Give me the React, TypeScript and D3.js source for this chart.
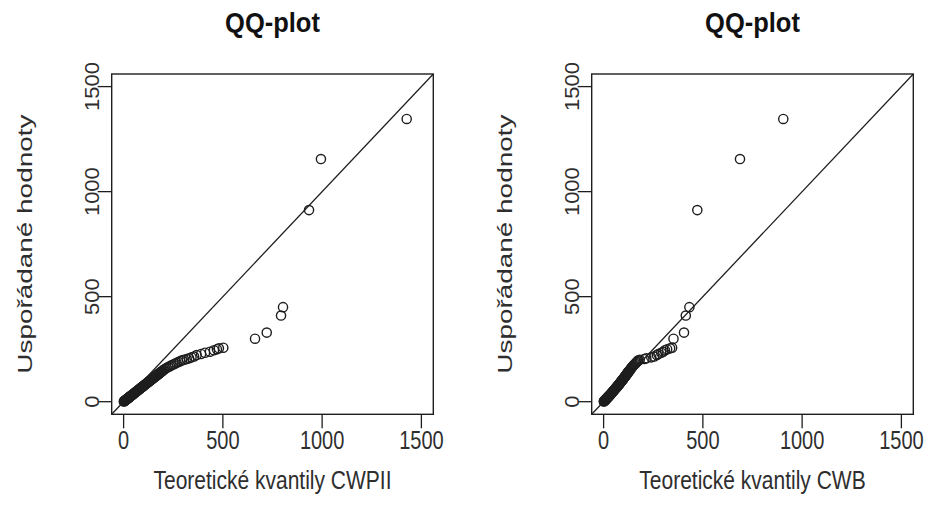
import React from "react";
import * as d3 from "d3";

// Sorted observed values (y) and matching theoretical quantiles (x) for each model
const sortedValues = [
  1, 2, 3, 4, 5, 6, 7, 8, 9, 10, 11, 12, 13, 14, 15, 16, 17, 18, 19, 20,
  21, 22, 23, 24, 25, 26, 27, 28, 29, 30, 32, 34, 36, 38, 40, 42, 44, 46, 48, 50,
  52, 54, 56, 58, 60, 62, 64, 66, 68, 70, 72, 74, 76, 78, 80, 82, 84, 86, 88, 90,
  92, 94, 96, 98, 100, 102, 104, 106, 108, 110, 112, 114, 116, 118, 120, 122, 124, 126, 128, 130,
  132, 134, 136, 138, 140, 142, 144, 145, 149, 153, 157, 161, 165, 169, 173, 177, 181, 185, 189, 193,
  197, 200, 203, 207, 211, 215, 222, 227, 233, 238, 245, 250, 254, 257, 300, 329, 410, 450, 912, 1155,
  1346,
];
const quantCWPII = [
  1, 3, 4, 5, 7, 8, 9, 11, 12, 13, 15, 16, 17, 19, 20, 21, 23, 24, 25, 27,
  28, 29, 31, 32, 33, 35, 36, 37, 39, 40, 43, 45, 48, 51, 53, 56, 59, 61, 64, 67,
  69, 72, 75, 77, 80, 82, 85, 88, 90, 93, 96, 98, 101, 104, 106, 109, 112, 114, 117, 120,
  122, 125, 128, 130, 133, 136, 138, 141, 144, 146, 149, 152, 154, 157, 160, 162, 165, 168, 170, 173,
  176, 178, 181, 184, 186, 189, 191, 194, 198, 204, 210, 217, 225, 233, 241, 250, 258, 267, 276, 285,
  295, 305, 318, 330, 342, 355, 368, 390, 410, 435, 455, 470, 480, 502, 662, 721, 793, 803, 934, 994,
  1426,
];
const quantCWB = [
  1, 2, 3, 4, 5, 6, 7, 8, 9, 10, 11, 12, 13, 14, 15, 16, 17, 18, 19, 20,
  21, 22, 23, 24, 25, 26, 27, 28, 29, 30, 32, 34, 36, 37, 39, 41, 43, 45, 47, 48,
  50, 52, 54, 56, 57, 59, 61, 63, 65, 66, 68, 70, 72, 73, 75, 77, 79, 80, 82, 84,
  85, 87, 89, 90, 92, 94, 95, 97, 99, 100, 102, 103, 105, 107, 108, 110, 111, 113, 114, 116,
  117, 119, 120, 122, 123, 125, 126, 128, 131, 134, 137, 140, 143, 147, 151, 155, 159, 163, 167, 171,
  175, 182, 205, 215, 240, 255, 268, 276, 290, 300, 309, 320, 335, 345, 352, 405, 414, 432, 472, 687,
  905,
];
const tickValues = [0, 500, 1000, 1500];
const panelTitles = ["QQ-plot", "QQ-plot"];
const xLabels = ["Teoretické kvantily CWPII", "Teoretické kvantily CWB"];
const yLabel = "Uspořádané hodnoty";

const W = 928;
const H = 522;
const INK = "#1e1e1e";
const TEXT = "#2e2e2e";
const FONT = "'Liberation Sans', Arial, Helvetica, sans-serif";
const V = 1.25; // vertical stretch of the reference image

function Panel({ offset, xs, title, xLabel }: { offset: number; xs: number[]; title: string; xLabel: string }) {
  const left = 111.7 + offset;
  const right = 433.3 + offset;
  const top = 74;
  const bottom = 414.3;
  const x = d3.scaleLinear().domain([-60, 1560]).range([left, right]);
  const y = d3.scaleLinear().domain([-60, 1560]).range([bottom, top]);
  const cx = (left + right) / 2;
  const cy = (top + bottom) / 2;
  const clipId = `clip-${offset}`;
  return (
    <g>
      <defs>
        <clipPath id={clipId}>
          <rect x={left} y={top} width={right - left} height={bottom - top} />
        </clipPath>
      </defs>
      <text
        transform={`translate(${cx},32) scale(1,1.1)`}
        textAnchor="middle" fontFamily={FONT} fontWeight="bold" fontSize={25.5} fill="#111"
      >
        {title}
      </text>
      <line
        x1={x(-60)} y1={y(-60)} x2={x(1560)} y2={y(1560)}
        stroke={INK} strokeWidth={1.3} clipPath={`url(#${clipId})`}
      />
      <g clipPath={`url(#${clipId})`}>
        {sortedValues.map((v, i) => (
          <circle key={i} cx={x(xs[i])} cy={y(v)} r={4.6} fill="none" stroke={INK} strokeWidth={1.4} />
        ))}
      </g>
      <rect x={left} y={top} width={right - left} height={bottom - top} fill="none" stroke={INK} strokeWidth={1.4} />
      {tickValues.map((t) => (
        <g key={`xt${t}`}>
          <line x1={x(t)} x2={x(t)} y1={bottom} y2={bottom + 14} stroke={INK} strokeWidth={1.3} />
          <text
            transform={`translate(${x(t)},449) scale(1,${V})`}
            textAnchor="middle" fontFamily={FONT} fontSize={20} fill={TEXT}
          >
            {t}
          </text>
        </g>
      ))}
      {tickValues.map((t) => (
        <g key={`yt${t}`}>
          <line x1={left} x2={left - 14} y1={y(t)} y2={y(t)} stroke={INK} strokeWidth={1.3} />
          <text
            transform={`translate(${99 + offset},${y(t)}) rotate(-90) scale(1.1,1)`}
            textAnchor="middle" fontFamily={FONT} fontSize={20} fill={TEXT}
          >
            {t}
          </text>
        </g>
      ))}
      <text
        transform={`translate(${cx},489) scale(1,${V})`}
        textAnchor="middle" fontFamily={FONT} fontSize={21} fill={TEXT}
      >
        {xLabel}
      </text>
      <text
        transform={`translate(${32 + offset},${cy}) rotate(-90) scale(1.33,1)`}
        textAnchor="middle" fontFamily={FONT} fontSize={21} fill={TEXT}
      >
        {yLabel}
      </text>
    </g>
  );
}

export default function App() {
  return (
    <svg width={W} height={H} style={{ display: "block", position: "absolute", left: 0, top: 0, background: "#fff" }}>
      <rect width={W} height={H} fill="#fff" />
      <Panel offset={0} xs={quantCWPII} title={panelTitles[0]} xLabel={xLabels[0]} />
      <Panel offset={480} xs={quantCWB} title={panelTitles[1]} xLabel={xLabels[1]} />
    </svg>
  );
}
